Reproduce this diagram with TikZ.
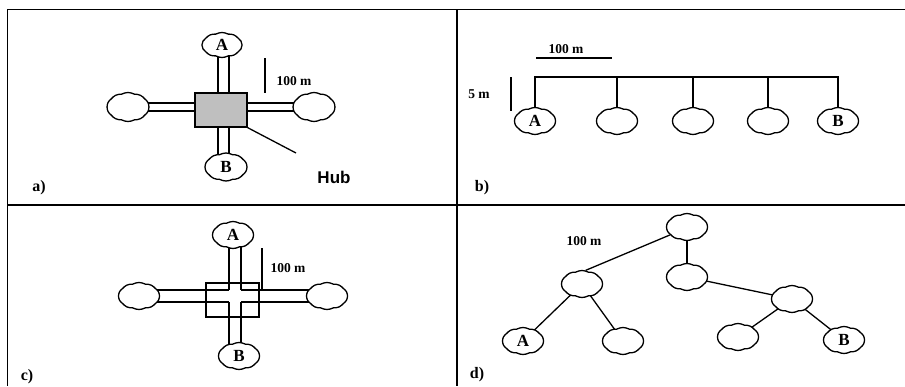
\documentclass[tikz,border=0pt]{standalone}
\usepackage{fontspec}
\setmainfont{Liberation Serif}
\newfontfamily\hubfont{Liberation Sans}
\usetikzlibrary{shapes.symbols,calc}
\pgfdeclarelayer{bg}
\pgfsetlayers{bg,main}
\tikzset{
 cl/.style={cloud, cloud puffs=10, cloud puff arc=58, cloud ignores aspect, draw, fill=white, line width=1.3pt, minimum width=41pt, minimum height=27pt, inner sep=0pt, font=\bfseries\fontsize{17}{17}\selectfont},
 ln/.style={line width=1.3pt},
 frame/.style={line width=1.8pt},
 lbl/.style={font=\bfseries\fontsize{16}{16}\selectfont, inner sep=0pt},
 dist/.style={font=\bfseries\fontsize{13.5}{13.5}\selectfont, inner sep=0pt},
 hubbox/.style={draw, line width=1.3pt, inner sep=0pt},
}
\begin{document}
\begin{tikzpicture}[x=1pt,y=-1pt]
\useasboundingbox (0,0) rectangle (905,386);
% frame
\draw[frame] (905,9.5) -- (7.5,9.5) -- (7.5,386);
\draw[frame] (457,9.5) -- (457,386);
\draw[frame] (7.5,205) -- (905,205);

% ---------- panel a ----------
\node[hubbox, fill=gray!50, minimum width=52pt, minimum height=34pt] (hub) at (221,110) {};
\node[cl, minimum width=40pt, minimum height=25pt] (aA) at (222,45) {A};
\node[cl, minimum width=42pt, minimum height=28pt] (aB) at (226,167) {B};
\node[cl, minimum width=42pt, minimum height=29pt] (aL) at (128,107) {};
\node[cl, minimum width=42pt, minimum height=29pt] (aR) at (314,107) {};
\begin{pgfonlayer}{bg}
\draw[ln] (218,0 |- aA.center) -- (218,0 |- aB.center);
\draw[ln] (229,0 |- aA.center) -- (229,0 |- aB.center);
\draw[ln] (aL.center |- 0,103) -- (aR.center |- 0,103);
\draw[ln] (aL.center |- 0,111) -- (aR.center |- 0,111);
\end{pgfonlayer}
\coordinate (hubtip) at (296,153);
\draw[ln] (hub.south east) -- (hubtip);
\node[font=\hubfont\bfseries\fontsize{17}{17}\selectfont, inner sep=0pt] (hubtxt) at (334,177) {Hub};
\draw[ln] (265,58) -- (265,93);
\node[dist] (adist) at (294,81) {100 m};
\node[lbl] (la) at (39,188) {a)};

% ---------- panel b ----------
\node[cl] (b1) at (535,121) {A};
\node[cl] (b2) at (617,121) {};
\node[cl] (b3) at (693,121) {};
\node[cl] (b4) at (768,121) {};
\node[cl] (b5) at (838,121) {B};
\begin{pgfonlayer}{bg}
\draw[ln] (b1.center) -- (b1.center |- 0,77) -- (b5.center |- 0,77) -- (b5.center);
\draw[ln] (b2.center |- 0,77) -- (b2.center);
\draw[ln] (b3.center |- 0,77) -- (b3.center);
\draw[ln] (b4.center |- 0,77) -- (b4.center);
\end{pgfonlayer}
\draw[ln] (536,58) -- (612,58);
\node[dist] (bdist) at (566,49) {100 m};
\draw[ln] (511,77) -- (511,111);
\node[dist] (bdist2) at (479,94) {5 m};
\node[lbl] (lb) at (482,188) {b)};

% ---------- panel c ----------
\node[cl] (cA) at (233,235) {A};
\node[cl] (cB) at (239,356) {B};
\node[cl] (cL) at (139,296) {};
\node[cl] (cR) at (327,296) {};
\node[hubbox, minimum width=53pt, minimum height=34pt] (chub) at (232.5,300) {};
\begin{pgfonlayer}{bg}
\draw[ln] (229,0 |- cA.center) -- (229,290) (229,302) -- (229,0 |- cB.center);
\draw[ln] (241,0 |- cA.center) -- (241,290) (241,302) -- (241,0 |- cB.center);
\draw[ln] (cL.center |- 0,290) -- (229,290) (241,290) -- (cR.center |- 0,290);
\draw[ln] (cL.center |- 0,302) -- (229,302) (241,302) -- (cR.center |- 0,302);
\end{pgfonlayer}
\draw[ln] (262,248) -- (262,290);
\node[dist] (cdist) at (288,268) {100 m};
\node[lbl] (lc) at (27,377) {c)};

% ---------- panel d ----------
\node[cl] (root) at (687,227) {};
\node[cl] (mid) at (687,277) {};
\node[cl] (dl) at (582,284) {};
\node[cl] (dr) at (792,299) {};
\node[cl] (dA) at (523,341) {A};
\node[cl] (dl2) at (623,341) {};
\node[cl] (dr1) at (738,337) {};
\node[cl] (dB) at (844,340) {B};
\begin{pgfonlayer}{bg}
\draw[ln] (root.center) -- (mid.center);
\draw[ln] (mid.center) -- (dr.center);
\draw[ln] (dl.center) -- (dA.center);
\draw[ln] (dl.center) -- (dl2.center);
\draw[ln] (dr.center) -- (dr1.center);
\draw[ln] (dr.center) -- (dB.center);
\end{pgfonlayer}
\draw[ln] (root.205) -- (dl.75);
\node[dist] (ddist) at (584,241) {100 m};
\node[lbl] (ld) at (477,375) {d)};
\end{tikzpicture}
\end{document}
